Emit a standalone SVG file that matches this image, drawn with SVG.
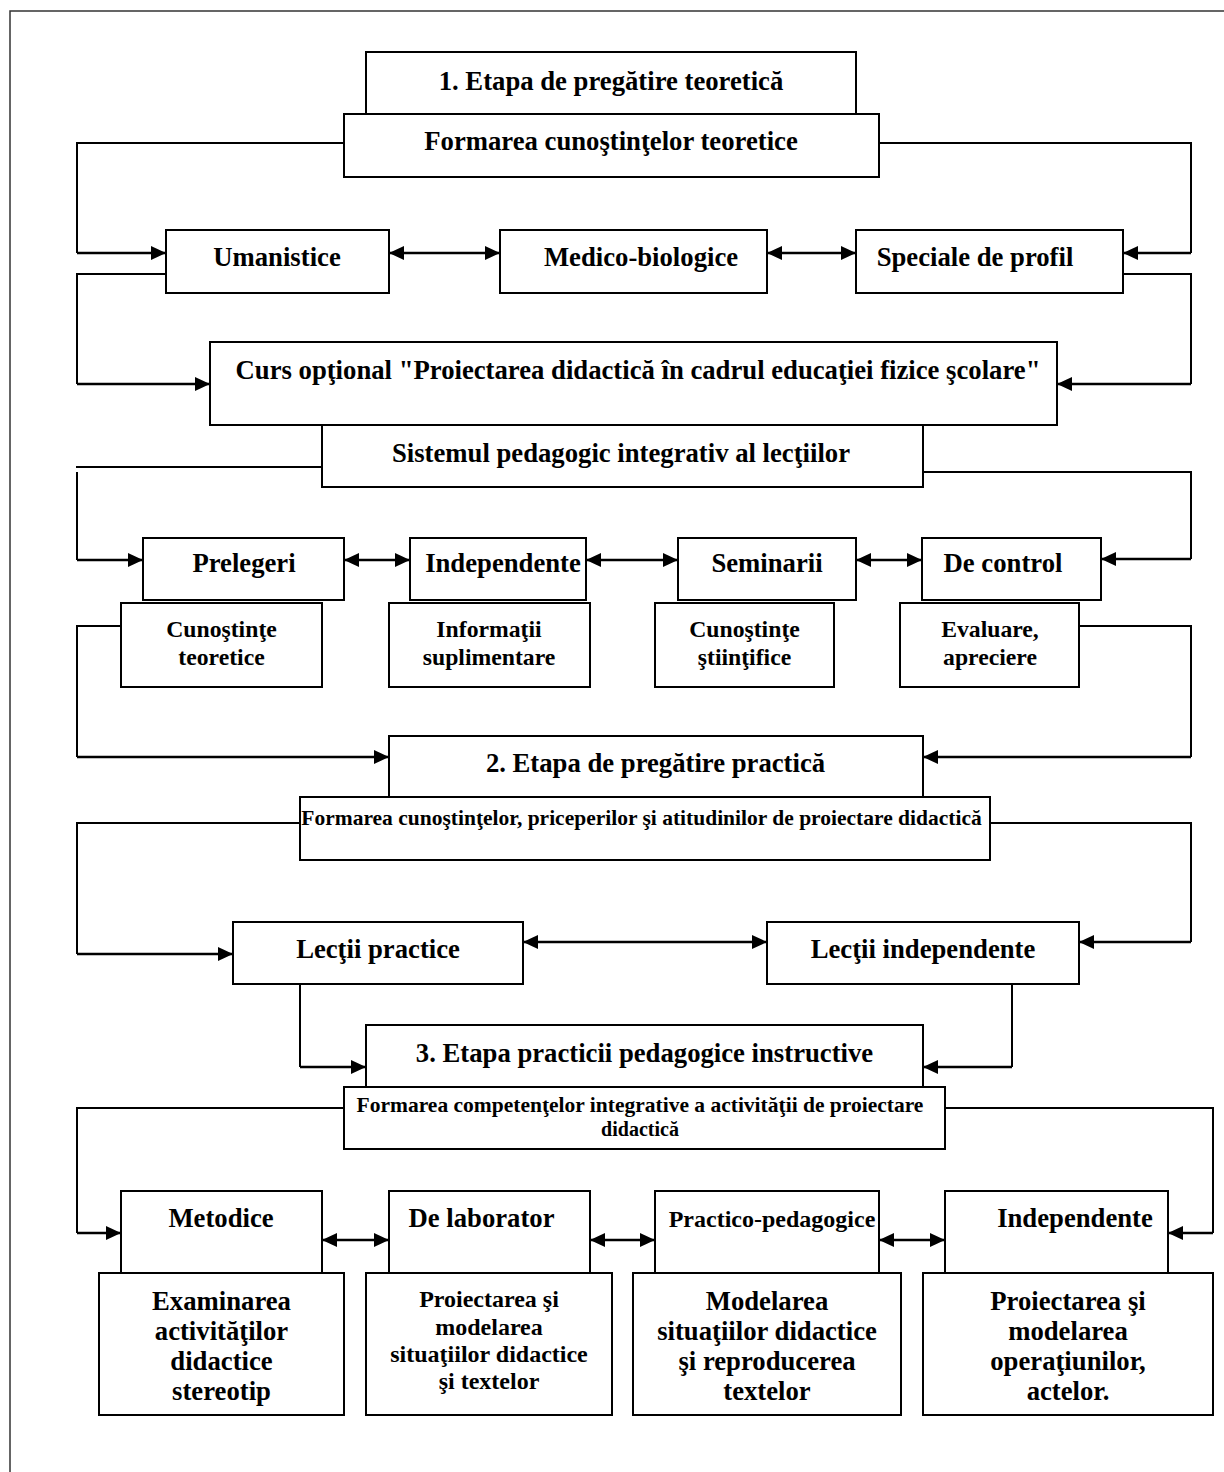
<svg xmlns="http://www.w3.org/2000/svg" width="1224" height="1472" viewBox="0 0 1224 1472">
<style>
.b{fill:#fff;stroke:#000;stroke-width:2}
.c{fill:none;stroke:#000;stroke-width:2}
.a{fill:none;stroke:#000;stroke-width:2.5}
text{font-family:"Liberation Serif","Times New Roman",serif;font-weight:bold;fill:#000;text-anchor:middle}
.t{font-size:26.7px}
.s{font-size:23.7px}
.m{font-size:24px}
.p{font-size:24px}
.f{font-size:21.5px}
.g{font-size:20px}
</style>
<defs>
<marker id="ah" markerUnits="userSpaceOnUse" markerWidth="15" markerHeight="14" refX="15" refY="7" orient="auto-start-reverse"><path d="M0,0 L15,7 L0,14 z" fill="#000"/></marker>
</defs>
<rect x="10" y="11" width="1240" height="1500" fill="none" stroke="#333" stroke-width="1.5"/>
<g id="connectors">
<path class="c" d="M344,143 H77 V253"/><path class="a" d="M77,253 H166" marker-end="url(#ah)"/>
<path class="c" d="M879,143 H1191 V253"/><path class="a" d="M1191,253 H1123" marker-end="url(#ah)"/>
<path class="a" d="M389,253 H500" marker-start="url(#ah)" marker-end="url(#ah)"/>
<path class="a" d="M767,253 H856" marker-start="url(#ah)" marker-end="url(#ah)"/>
<path class="c" d="M166,274 H77 V384"/><path class="a" d="M77,384 H210" marker-end="url(#ah)"/>
<path class="c" d="M1123,274 H1191 V384"/><path class="a" d="M1191,384 H1057" marker-end="url(#ah)"/>
<path class="c" d="M322,467 H76"/><path class="c" d="M77,472 V560"/><path class="a" d="M77,560 H143" marker-end="url(#ah)"/>
<path class="c" d="M923,472 H1191 V559"/><path class="a" d="M1191,559 H1101" marker-end="url(#ah)"/>
<path class="a" d="M344,560 H410" marker-start="url(#ah)" marker-end="url(#ah)"/>
<path class="a" d="M586,560 H678" marker-start="url(#ah)" marker-end="url(#ah)"/>
<path class="a" d="M856,560 H922" marker-start="url(#ah)" marker-end="url(#ah)"/>
<path class="c" d="M121,626 H77 V757"/><path class="a" d="M77,757 H389" marker-end="url(#ah)"/>
<path class="c" d="M1079,626 H1191 V757"/><path class="a" d="M1191,757 H923" marker-end="url(#ah)"/>
<path class="c" d="M300,823 H77 V954"/><path class="a" d="M77,954 H233" marker-end="url(#ah)"/>
<path class="c" d="M990,823 H1191 V942"/><path class="a" d="M1191,942 H1079" marker-end="url(#ah)"/>
<path class="a" d="M523,942 H767" marker-start="url(#ah)" marker-end="url(#ah)"/>
<path class="c" d="M300,984 V1067"/><path class="a" d="M300,1067 H366" marker-end="url(#ah)"/>
<path class="c" d="M1012,984 V1067"/><path class="a" d="M1012,1067 H923" marker-end="url(#ah)"/>
<path class="c" d="M344,1108 H77 V1233"/><path class="a" d="M77,1233 H121" marker-end="url(#ah)"/>
<path class="c" d="M945,1108 H1213 V1233"/><path class="a" d="M1213,1233 H1168" marker-end="url(#ah)"/>
<path class="a" d="M322,1240 H389" marker-start="url(#ah)" marker-end="url(#ah)"/>
<path class="a" d="M590,1240 H655" marker-start="url(#ah)" marker-end="url(#ah)"/>
<path class="a" d="M879,1240 H945" marker-start="url(#ah)" marker-end="url(#ah)"/>
</g>
<g id="etapa1"><rect class="b" x="366" y="52" width="490" height="62"/><text class="t" x="611" y="90">1. Etapa de pregătire teoretică</text></g>
<g id="formarea1"><rect class="b" x="344" y="114" width="535" height="63"/><text class="t" x="611" y="150">Formarea cunoştinţelor teoretice</text></g>
<g id="umanistice"><rect class="b" x="166" y="230" width="223" height="63"/><text class="t" x="277" y="266">Umanistice</text></g>
<g id="medico"><rect class="b" x="500" y="230" width="267" height="63"/><text class="t" x="641" y="266">Medico-biologice</text></g>
<g id="speciale"><rect class="b" x="856" y="230" width="267" height="63"/><text class="t" x="975" y="266">Speciale de profil</text></g>
<g id="curs"><rect class="b" x="210" y="342" width="847" height="83"/><text class="t" x="638" y="379">Curs opţional "Proiectarea didactică în cadrul educaţiei fizice şcolare"</text></g>
<g id="sistemul"><rect class="b" x="322" y="425" width="601" height="62"/><text class="t" x="621" y="462">Sistemul pedagogic integrativ al lecţiilor</text></g>
<g id="prelegeri"><rect class="b" x="143" y="538" width="201" height="62"/><text class="t" x="244" y="572">Prelegeri</text></g>
<g id="independente1"><rect class="b" x="410" y="538" width="176" height="62"/><text class="t" x="503" y="572">Independente</text></g>
<g id="seminarii"><rect class="b" x="678" y="538" width="178" height="62"/><text class="t" x="767" y="572">Seminarii</text></g>
<g id="decontrol"><rect class="b" x="922" y="538" width="179" height="62"/><text class="t" x="1003" y="572">De control</text></g>
<g id="cunostinte1"><rect class="b" x="121" y="603" width="201" height="84"/><text class="s" x="221.5" y="637">Cunoştinţe</text><text class="s" x="221.5" y="665">teoretice</text></g>
<g id="informatii"><rect class="b" x="389" y="603" width="201" height="84"/><text class="s" x="489" y="637">Informaţii</text><text class="s" x="489" y="665">suplimentare</text></g>
<g id="cunostinte2"><rect class="b" x="655" y="603" width="179" height="84"/><text class="s" x="744.5" y="637">Cunoştinţe</text><text class="s" x="744.5" y="665">ştiinţifice</text></g>
<g id="evaluare"><rect class="b" x="900" y="603" width="179" height="84"/><text class="s" x="990" y="637">Evaluare,</text><text class="s" x="990" y="665">apreciere</text></g>
<g id="etapa2"><rect class="b" x="389" y="736" width="534" height="61"/><text class="t" x="655.5" y="772">2. Etapa de pregătire practică</text></g>
<g id="formarea2"><rect class="b" x="300" y="797" width="690" height="63"/><text class="f" x="641.5" y="825">Formarea cunoştinţelor, priceperilor şi atitudinilor de proiectare didactică</text></g>
<g id="lectiipractice"><rect class="b" x="233" y="922" width="290" height="62"/><text class="t" x="378" y="958">Lecţii practice</text></g>
<g id="lectiiindependente"><rect class="b" x="767" y="922" width="312" height="62"/><text class="t" x="923" y="958">Lecţii independente</text></g>
<g id="etapa3"><rect class="b" x="366" y="1025" width="557" height="62"/><text class="t" x="644.5" y="1062">3. Etapa practicii pedagogice instructive</text></g>
<g id="formarea3"><rect class="b" x="344" y="1087" width="601" height="62"/><text class="f" x="640" y="1112">Formarea competenţelor integrative a activităţii de proiectare</text><text class="g" x="640" y="1136">didactică</text></g>
<g id="metodice"><rect class="b" x="121" y="1191" width="201" height="82"/><text class="t" x="221" y="1227">Metodice</text></g>
<g id="delaborator"><rect class="b" x="389" y="1191" width="201" height="82"/><text class="t" x="481.5" y="1227">De laborator</text></g>
<g id="practico"><rect class="b" x="655" y="1191" width="224" height="82"/><text class="p" x="772" y="1227">Practico-pedagogice</text></g>
<g id="independente2"><rect class="b" x="945" y="1191" width="223" height="82"/><text class="t" x="1075" y="1227">Independente</text></g>
<g id="examinarea"><rect class="b" x="99" y="1273" width="245" height="142"/><text class="t" x="221.5" y="1310">Examinarea</text><text class="t" x="221.5" y="1340">activităţilor</text><text class="t" x="221.5" y="1370">didactice</text><text class="t" x="221.5" y="1400">stereotip</text></g>
<g id="proiectarea1"><rect class="b" x="366" y="1273" width="246" height="142"/><text class="m" x="489" y="1307">Proiectarea şi</text><text class="m" x="489" y="1335">modelarea</text><text class="m" x="489" y="1362">situaţiilor didactice</text><text class="m" x="489" y="1389">şi textelor</text></g>
<g id="modelarea"><rect class="b" x="633" y="1273" width="268" height="142"/><text class="t" x="767" y="1310">Modelarea</text><text class="t" x="767" y="1340">situaţiilor didactice</text><text class="t" x="767" y="1370">şi reproducerea</text><text class="t" x="767" y="1400">textelor</text></g>
<g id="proiectarea2"><rect class="b" x="923" y="1273" width="290" height="142"/><text class="t" x="1068" y="1310">Proiectarea şi</text><text class="t" x="1068" y="1340">modelarea</text><text class="t" x="1068" y="1370">operaţiunilor,</text><text class="t" x="1068" y="1400">actelor.</text></g>
</svg>
